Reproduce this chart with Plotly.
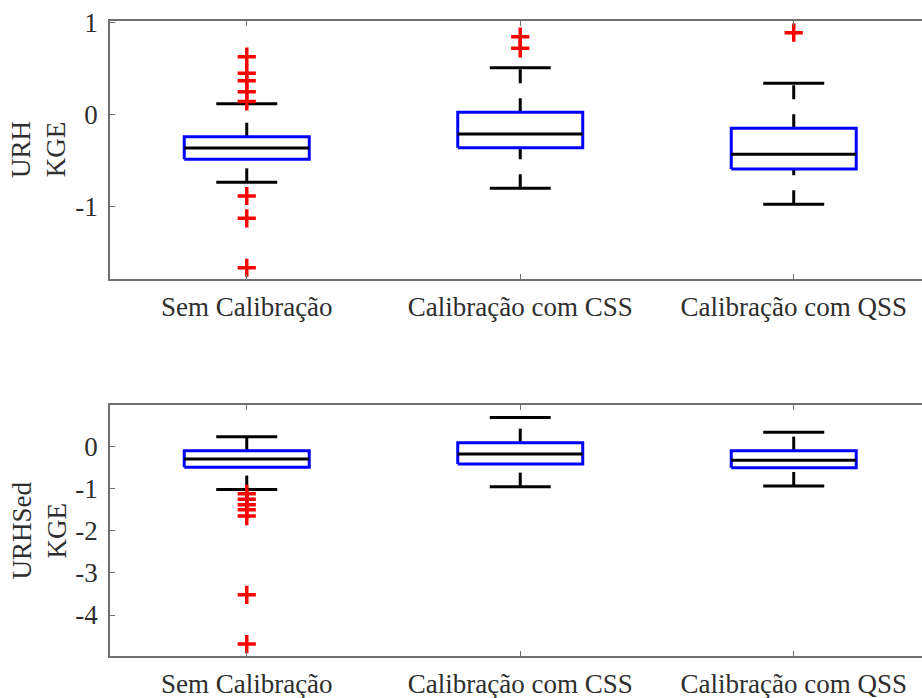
import plotly.graph_objects as go
from plotly.subplots import make_subplots

categories = ["Sem Calibração", "Calibração com CSS", "Calibração com QSS"]
positions = [1, 2, 3]

# Panel 1: URH KGE
urh_lower = [-0.738, -0.803, -0.976]
urh_q1 = [-0.488, -0.362, -0.593]
urh_median = [-0.366, -0.214, -0.434]
urh_q3 = [-0.243, 0.022, -0.152]
urh_upper = [0.115, 0.505, 0.336]
urh_outliers = [
    [0.625, 0.445, 0.364, 0.245, 0.14, -0.886, -1.128, -1.664],
    [0.842, 0.716],
    [0.885],
]

# Panel 2: URHSed KGE
sed_lower = [-1.02, -0.95, -0.934]
sed_q1 = [-0.49, -0.41, -0.50]
sed_median = [-0.292, -0.173, -0.323]
sed_q3 = [-0.095, 0.095, -0.095]
sed_upper = [0.238, 0.69, 0.342]
sed_outliers = [
    [-1.12, -1.25, -1.38, -1.5, -1.65, -3.52, -4.69],
    [],
    [],
]

urh_ticks = [1, 0, -1]
sed_ticks = [0, -1, -2, -3, -4]

BOX_HW = 0.2285
CAP_HW = 0.1115
FONT = "Liberation Serif"
TXT = "#2e2e2e"
AX = "#707070"

fig = make_subplots(rows=2, cols=1, vertical_spacing=0.1984)


def add_boxes(row, lower, q1, med, q3, upper, outl):
    bx, by, mx, my, cx, cy, ox, oy = [], [], [], [], [], [], [], []
    for p, lo, a, m, b, up, o in zip(positions, lower, q1, med, q3, upper, outl):
        bx += [p - BOX_HW, p + BOX_HW, p + BOX_HW, p - BOX_HW, p - BOX_HW, None]
        by += [a, a, b, b, a, None]
        mx += [p - BOX_HW, p + BOX_HW, None]
        my += [m, m, None]
        cx += [p - CAP_HW, p + CAP_HW, None, p - CAP_HW, p + CAP_HW, None]
        cy += [up, up, None, lo, lo, None]
        ox += [p] * len(o)
        oy += list(o)
        # whiskers drawn separately so dash phase starts at first point
        fig.add_trace(go.Scatter(x=[p, p], y=[b, up], mode="lines",
                                 line=dict(color="black", width=3, dash="14px,15px"),
                                 hoverinfo="skip", showlegend=False), row=row, col=1)
        fig.add_trace(go.Scatter(x=[p, p], y=[lo, a], mode="lines",
                                 line=dict(color="black", width=3, dash="14px,15px"),
                                 hoverinfo="skip", showlegend=False), row=row, col=1)
    fig.add_trace(go.Scatter(x=cx, y=cy, mode="lines", line=dict(color="black", width=3),
                             hoverinfo="skip", showlegend=False), row=row, col=1)
    fig.add_trace(go.Scatter(x=bx, y=by, mode="lines", line=dict(color="#0000ff", width=3),
                             hoverinfo="skip", showlegend=False), row=row, col=1)
    fig.add_trace(go.Scatter(x=mx, y=my, mode="lines", line=dict(color="black", width=3),
                             hoverinfo="skip", showlegend=False), row=row, col=1)
    fig.add_trace(go.Scatter(x=ox, y=oy, mode="markers",
                             marker=dict(symbol="cross-thin", size=13,
                                         line=dict(color="#ff0000", width=3.5)),
                             hoverinfo="skip", showlegend=False), row=row, col=1)


add_boxes(1, urh_lower, urh_q1, urh_median, urh_q3, urh_upper, urh_outliers)
add_boxes(2, sed_lower, sed_q1, sed_median, sed_q3, sed_upper, sed_outliers)

xcommon = dict(range=[0.5, 3.469], tickvals=positions, ticktext=categories,
               ticks="inside", ticklen=5, tickcolor=AX, showline=True, linecolor=AX,
               linewidth=1.5, mirror="ticks", showgrid=False, zeroline=False,
               automargin=False,
               tickfont=dict(family=FONT, size=27, color=TXT), ticklabelstandoff=3)
fig.update_xaxes(**xcommon, row=1, col=1)
fig.update_xaxes(**xcommon, row=2, col=1)

ycommon = dict(ticks="inside", ticklen=5, tickcolor=AX, showline=True, linecolor=AX,
               linewidth=1.5, showgrid=False, zeroline=False, automargin=False,
               tickfont=dict(family=FONT, size=27, color=TXT), ticklabelstandoff=5)
fig.update_yaxes(**ycommon, range=[-1.786, 1.012], tickvals=urh_ticks,
                 ticktext=[str(t) for t in urh_ticks],
                 domain=[0.5937, 1.0], row=1, col=1)
fig.update_yaxes(**ycommon, range=[-4.974, 0.99], tickvals=sed_ticks,
                 ticktext=[str(t) for t in sed_ticks],
                 domain=[0.0, 0.3953], row=2, col=1)

fig.add_annotation(text="URH<br>KGE", xref="paper", yref="paper", x=-0.0874, y=0.797,
                   xanchor="center", yanchor="middle", textangle=-90, showarrow=False,
                   font=dict(family=FONT, size=27, color=TXT))
fig.add_annotation(text="URHSed<br>KGE", xref="paper", yref="paper", x=-0.0874, y=0.1977,
                   xanchor="center", yanchor="middle", textangle=-90, showarrow=False,
                   font=dict(family=FONT, size=27, color=TXT))

fig.update_layout(width=922, height=698, margin=dict(l=110, r=0, t=21, b=42),
                  paper_bgcolor="white", plot_bgcolor="white", showlegend=False)

fig.write_html("out.html")
